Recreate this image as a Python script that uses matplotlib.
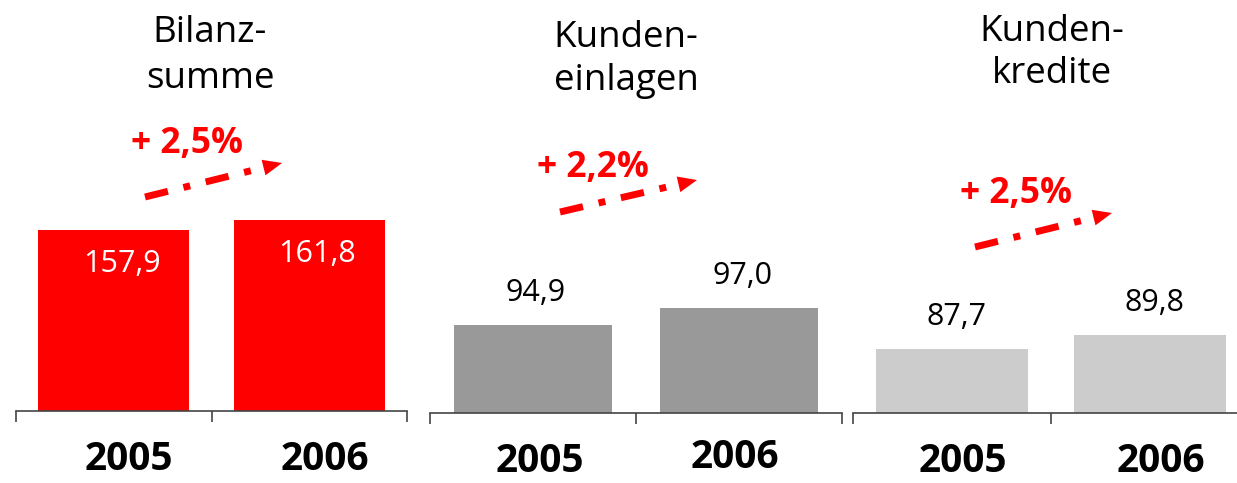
from matplotlib import pyplot as plt
from matplotlib.patches import Polygon
import numpy as np

YEARS : list[str] = ["2005", "2006"]
TITLES : list[list[str]] = [["Bilanz-", "summe"], ["Kunden-", "einlagen"], ["Kunden-", "kredite"]]
VALUES : list[list[float]] = [[157.9, 161.8], [94.9, 97.0], [87.7, 89.8]]
GROWTH : list[str] = ["+ 2,5%", "+ 2,2%", "+ 2,5%"]

W, H = 1237, 483
COLORS = ["#ff0000", "#999999", "#cccccc"]
# panel geometry in pixels: left, width, baseline y
PANELS = [(16, 391, 411), (430, 412, 413), (853, 396, 413)]
YLIMS = [(87.3, 247.6), (84.03, 135.05), (78.1, 140.05)]
INSIDE = [True, False, False]
VALUE_DX = [[8, 7.5], [3, 3.5], [5, 4]]
YEAR_DX = [[15.5, 16], [6.5, -4.5], [11, 11]]
YEAR_DY = [[49, 49], [49, 45], [48, 48]]
TITLE_POS = [(210, 42, 88), (626, 47, 90), (1052, 41, 83)]
GROWTH_POS = [(187, 153), (593, 177), (1016, 203)]
ARROWS = [((145, 197), (282, 163)), ((560, 212), (697, 180)), ((975, 247), (1112, 213))]

plt.rcParams["font.family"] = ["Open Sans", "DejaVu Sans"]
PT = 0.72  # points per pixel at dpi 100


def fx(x : float) -> float:
    return x / W


def fy(y : float) -> float:
    return 1 - y / H


def dash_arrow(fig, start, tip) -> None:
    (x0, y0), (x1, y1) = start, tip
    d = np.array([x1 - x0, y1 - y0], dtype=float)
    length = np.hypot(*d)
    u = d / length
    n = np.array([-u[1], u[0]])
    head_len, head_half = 19, 8
    base = np.array([x1, y1]) - u * head_len
    shaft_end = base - u * 8
    fig.add_artist(plt.Line2D([fx(x0), fx(shaft_end[0])], [fy(y0), fy(shaft_end[1])],
                              transform=fig.transFigure, color="#ff0000", lw=5,
                              linestyle=(0, (3.4, 2.3, 1.0, 2.3)), dash_capstyle="butt"))
    pts = [np.array([x1, y1]), base + n * head_half, base - n * head_half]
    fig.add_artist(Polygon([(fx(p[0]), fy(p[1])) for p in pts], closed=True,
                           transform=fig.transFigure, color="#ff0000", lw=0))


def main() -> None:
    fig = plt.figure(figsize=(W / 100, H / 100), dpi=100)

    for k, (left, width, base) in enumerate(PANELS):
        ax = fig.add_axes([fx(left), fy(base), width / W, base / H])
        ax.bar(range(len(YEARS)), VALUES[k], width=0.77, color=COLORS[k])
        ax.set_xlim(-0.5, 1.5)
        ax.set_ylim(*YLIMS[k])
        for s in ["top", "left", "right"]:
            ax.spines[s].set_visible(False)
        ax.spines["bottom"].set_color("#444444")
        ax.spines["bottom"].set_linewidth(1.2)
        ax.set_yticks([])
        ax.set_xticks([-0.5, 0.5, 1.5])
        ax.set_xticklabels([])
        ax.tick_params(axis="x", length=8, width=1.2, color="#444444", direction="out")
        ax.patch.set_alpha(0)

        for i, (year, v) in enumerate(zip(YEARS, VALUES[k])):
            label = f"{v:.1f}".replace(".", ",")
            dy = -34 if INSIDE[k] else 32
            ax.annotate(label, xy=(i, v), xytext=(VALUE_DX[k][i] * PT, dy * PT),
                        textcoords="offset points", ha="center", va="center",
                        fontsize=22, color="white" if INSIDE[k] else "black")
            ax.annotate(year, xy=(i, 0), xycoords=("data", "axes fraction"),
                        xytext=(YEAR_DX[k][i] * PT, -YEAR_DY[k][i] * PT),
                        textcoords="offset points", ha="center", va="center",
                        fontsize=28, fontweight="bold", color="black",
                        annotation_clip=False)

        tx, y1, y2 = TITLE_POS[k]
        fig.text(fx(tx), fy(y1), TITLES[k][0], ha="center", va="baseline", fontsize=26.5)
        fig.text(fx(tx), fy(y2), TITLES[k][1], ha="center", va="baseline", fontsize=26.5)

        gx, gy = GROWTH_POS[k]
        fig.text(fx(gx), fy(gy), GROWTH[k], ha="center", va="baseline", fontsize=25.5,
                 fontweight="bold", color="#ff0000")
        dash_arrow(fig, *ARROWS[k])

    fig.savefig("out.png", dpi=100)


if __name__ == "__main__":
    main()
